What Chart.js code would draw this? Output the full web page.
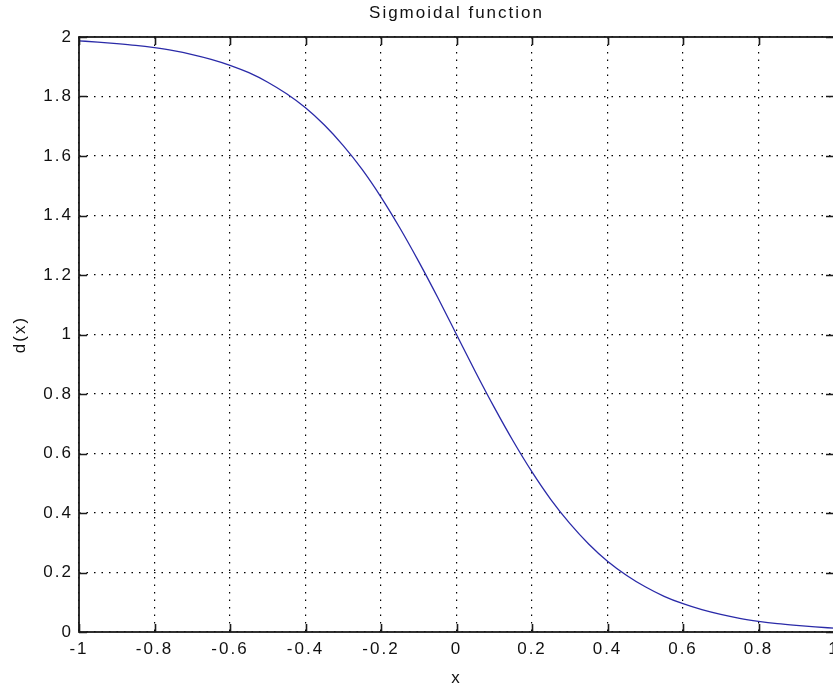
<!DOCTYPE html>
<html>
<head>
<meta charset="utf-8">
<script src="https://cdn.jsdelivr.net/npm/chart.js@4"></script>
<style>
  html, body { margin: 0; padding: 0; background: #fff; overflow: hidden; }
  #wrap { width: 833px; height: 695px; overflow: hidden; }
</style>
</head>
<body>
<div id="wrap"><canvas id="chart" width="913" height="695"></canvas></div>
<script>
// values
const xValues = [-1.00, -0.95, -0.90, -0.85, -0.80, -0.75, -0.70, -0.65, -0.60, -0.55, -0.50,
                 -0.45, -0.40, -0.35, -0.30, -0.25, -0.20, -0.15, -0.10, -0.05, 0.00,
                 0.05, 0.10, 0.15, 0.20, 0.25, 0.30, 0.35, 0.40, 0.45, 0.50,
                 0.55, 0.60, 0.65, 0.70, 0.75, 0.80, 0.85, 0.90, 0.95, 1.00];
const dValues = [1.987, 1.983, 1.978, 1.972, 1.964, 1.954, 1.941, 1.925, 1.905, 1.880, 1.848,
                 1.809, 1.762, 1.704, 1.635, 1.555, 1.462, 1.358, 1.245, 1.125, 1.000,
                 0.875, 0.755, 0.642, 0.538, 0.445, 0.365, 0.296, 0.238, 0.191, 0.152,
                 0.120, 0.095, 0.075, 0.059, 0.046, 0.036, 0.028, 0.022, 0.017, 0.013];
const xTicks = [-1, -0.8, -0.6, -0.4, -0.2, 0, 0.2, 0.4, 0.6, 0.8, 1];
const yTicks = [0, 0.2, 0.4, 0.6, 0.8, 1, 1.2, 1.4, 1.6, 1.8, 2];

const fontFamily = '"Liberation Sans", Arial, Helvetica, sans-serif';

// MATLAB style box with inward ticks on all four sides
const boxTicks = {
    id: 'boxTicks',
    beforeDraw(chart) {
        chart.ctx.letterSpacing = '2px';
    },
    afterDraw(chart) {
        const ctx = chart.ctx;
        const a = chart.chartArea;
        const xs = chart.scales.x, ys = chart.scales.y;
        const len = 8;
        ctx.save();
        ctx.strokeStyle = '#1a1a1a';
        ctx.lineWidth = 1.6;
        ctx.setLineDash([]);
        ctx.beginPath();
        xTicks.forEach(v => {
            const px = Math.round(xs.getPixelForValue(v)) + 0.5;
            ctx.moveTo(px, a.bottom); ctx.lineTo(px, a.bottom - len);
            ctx.moveTo(px, a.top); ctx.lineTo(px, a.top + len);
        });
        yTicks.forEach(v => {
            const py = Math.round(ys.getPixelForValue(v)) + 0.5;
            ctx.moveTo(a.left, py); ctx.lineTo(a.left + len, py);
            ctx.moveTo(a.right, py); ctx.lineTo(a.right - len, py);
        });
        ctx.stroke();
        ctx.lineWidth = 1.8;
        ctx.strokeRect(a.left, a.top, a.right - a.left, a.bottom - a.top);
        ctx.restore();
    }
};

new Chart(document.getElementById('chart'), {
    type: 'scatter',
    data: {
        datasets: [{
            data: xValues.map((x, i) => ({ x: x, y: dValues[i] })),
            showLine: true,
            borderColor: '#2a2aa8',
            borderWidth: 1.3,
            pointRadius: 0,
            cubicInterpolationMode: 'monotone',
            fill: false
        }]
    },
    options: {
        responsive: false,
        animation: false,
        layout: { padding: { left: 0, right: 79, top: 0, bottom: 0 } },
        plugins: {
            legend: { display: false },
            tooltip: { enabled: false },
            title: {
                display: true,
                fullSize: false,
                text: 'Sigmoidal function',
                color: '#111',
                font: { family: fontFamily, size: 17, weight: 'normal' },
                padding: { top: 3, bottom: 13.6 }
            }
        },
        scales: {
            x: {
                type: 'linear',
                min: -1, max: 1,
                afterFit: s => { s.height = 63; },
                afterBuildTicks: s => { s.ticks = xTicks.map(v => ({ value: v })); },
                ticks: {
                    color: '#111',
                    padding: 7,
                    font: { family: fontFamily, size: 17 },
                    callback: v => String(Math.round(v * 10) / 10)
                },
                grid: { color: '#000', lineWidth: 1.2, drawTicks: false },
                border: { display: false, dash: [1.5, 6] },
                title: {
                    display: true,
                    text: 'x',
                    color: '#111',
                    font: { family: fontFamily, size: 17 },
                    padding: { top: 0, bottom: 6 }
                }
            },
            y: {
                type: 'linear',
                min: 0, max: 2,
                afterFit: s => { s.width = 79; },
                afterBuildTicks: s => { s.ticks = yTicks.map(v => ({ value: v })); },
                ticks: {
                    color: '#111',
                    padding: 6,
                    font: { family: fontFamily, size: 17 },
                    callback: v => String(Math.round(v * 10) / 10)
                },
                grid: { color: '#000', lineWidth: 1.2, drawTicks: false },
                border: { display: false, dash: [1.5, 6] },
                title: {
                    display: true,
                    text: 'd(x)',
                    color: '#111',
                    font: { family: fontFamily, size: 17 },
                    padding: { top: 10, bottom: 0 }
                }
            }
        }
    },
    plugins: [boxTicks]
});
</script>
</body>
</html>
